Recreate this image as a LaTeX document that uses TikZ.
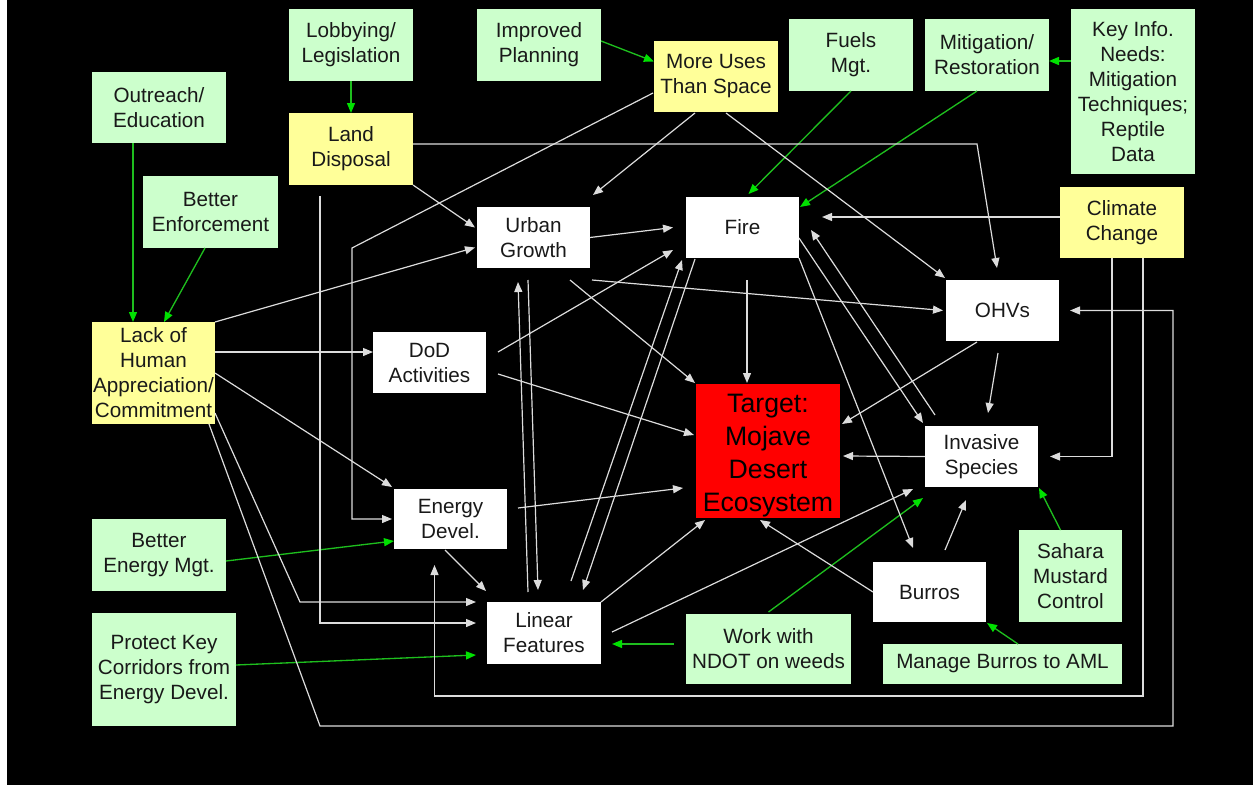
\documentclass[tikz,border=0pt]{standalone}
\usepackage{fontspec}
\setmainfont{Liberation Sans}
\usetikzlibrary{arrows.meta}
\definecolor{gfill}{RGB}{204,255,204}
\definecolor{yfill}{RGB}{255,255,153}
\definecolor{lgray}{RGB}{220,220,220}
\definecolor{lgreen}{RGB}{30,190,30}
\definecolor{ghead}{RGB}{0,225,0}
\definecolor{txt}{RGB}{25,25,25}
\newcommand\mybox[7]{\node[#6, minimum width={(#4-#2)*0.75pt}, minimum height={(#5-#3)*0.75pt}] (#1) at ({(#2+#4)/2},{(#3+#5)/2}) {#7};}
\tikzset{
  box/.style={inner sep=0pt, outer sep=0pt, align=center, text=txt, font=\fontsize{15.5}{18.75}\selectfont},
  gbox/.style={box, fill=gfill},
  ybox/.style={box, fill=yfill},
  wbox/.style={box, fill=white},
  tbox/.style={box, fill=red, text=black, font=\fontsize{20}{24.75}\selectfont},
  warr/.style={draw=lgray, line width=0.9pt, -{Triangle[length=7.5pt,width=6pt]}},
  garr/.style={draw=lgreen, line width=1pt, -{Triangle[length=7.5pt,width=6pt,color=ghead]}}
}
\begin{document}
\begin{tikzpicture}[x=0.75pt,y=-0.75pt]
\useasboundingbox (0,0) rectangle (1253,785);
\fill[white] (0,0) rectangle (1253,785);
\fill[black] (7,0) rectangle (1253,785);
% nodes
\mybox{outreach}{92}{72}{226}{143}{gbox}{Outreach/\\Education}
\mybox{lobby}{289}{9}{413}{81}{gbox}{Lobbying/\\Legislation}
\mybox{land}{289}{113}{413}{185}{ybox}{Land\\Disposal}
\mybox{enforce}{143}{176}{278}{248}{gbox}{Better\\Enforcement}
\mybox{improved}{477}{9}{601}{81}{gbox}{Improved\\Planning}
\mybox{moreuses}{654}{41}{778}{112}{ybox}{More Uses\\Than Space}
\mybox{fuels}{789}{19}{913}{91}{gbox}{Fuels\\Mgt.}
\mybox{mitig}{925}{19}{1049}{91}{gbox}{Mitigation/\\Restoration}
\mybox{keyinfo}{1071}{9}{1195}{174}{gbox}{Key Info.\\Needs:\\Mitigation\\Techniques;\\Reptile\\Data}
\mybox{climate}{1060}{187}{1184}{258}{ybox}{Climate\\Change}
\mybox{urban}{477}{207}{590}{268}{wbox}{Urban\\Growth}
\mybox{fire}{686}{197}{799}{258}{wbox}{Fire}
\mybox{ohvs}{946}{280}{1059}{341}{wbox}{OHVs}
\mybox{lack}{92}{322}{215}{424}{ybox}{Lack of\\Human\\Appreciation/\\Commitment}
\mybox{dod}{373}{332}{486}{393}{wbox}{DoD\\Activities}
\mybox{energy}{394}{489}{507}{549}{wbox}{Energy\\Devel.}
\mybox{target}{696}{384}{840}{518}{tbox}{\rule{0pt}{20pt}Target:\\Mojave\\Desert\\Ecosystem}
\mybox{invasive}{925}{426}{1038}{487}{wbox}{Invasive\\Species}
\mybox{sahara}{1019}{530}{1122}{622}{gbox}{Sahara\\Mustard\\Control}
\mybox{burros}{873}{562}{986}{622}{wbox}{Burros}
\mybox{manage}{883}{644}{1122}{684}{gbox}{Manage Burros to AML}
\mybox{ndot}{686}{614}{851}{684}{gbox}{Work with\\NDOT on weeds}
\mybox{linear}{487}{602}{601}{664}{wbox}{Linear\\Features}
\mybox{benergy}{92}{519}{226}{591}{gbox}{Better\\Energy Mgt.}
\mybox{protect}{92}{613}{236}{726}{gbox}{Protect Key\\Corridors from\\Energy Devel.}
% green connectors
\draw[garr] (lobby.south) -- (land.north);
\draw[garr] ([shift={(0,-4)}]improved.east) -- ([shift={(0,-15)}]moreuses.west);
\draw[garr] (fuels.south) -- ([shift={(6,-3)}]fire.north);
\draw[garr] ([shift={(-10,0)}]mitig.south) -- ([shift={(1,10)}]fire.north east);
\draw[garr] ([shift={(0,-30.5)}]keyinfo.west) -- ([shift={(0,6)}]mitig.east);
\draw[garr] ([shift={(-26,0)}]outreach.south) -- ([shift={(-20.5,0)}]lack.north);
\draw[garr] ([shift={(-5.5,0)}]enforce.south) -- ([shift={(10.5,0)}]lack.north);
\draw[garr] ([shift={(0,6)}]benergy.east) -- ([shift={(0,22)}]energy.west);
\draw[garr] ([shift={(0,-4.5)}]protect.east) -- ([shift={(-11,22)}]linear.west);
\draw[garr] ([shift={(-12,-5)}]ndot.west) -- ([shift={(11,11)}]linear.east);
\draw[garr] ([shift={(0,-2)}]ndot.north) -- ([shift={(-2,11)}]invasive.south west);
\draw[garr] ([shift={(-10,0)}]sahara.north) -- ([shift={(1,1)}]invasive.south east);
\draw[garr] ([shift={(15.5,0)}]manage.north) -- ([shift={(1,1)}]burros.south east);
% white connectors
\draw[warr] ([shift={(0,-5)}]land.east) -- (977,144) -- ([shift={(-5.5,-12)}]ohvs.north);
\draw[warr] (land.south east) -- ([shift={(-2,-10)}]urban.west);
\draw[warr] ([shift={(-31,11)}]land.south) |- ([shift={(-11,-10)}]linear.west);
\draw[warr] ([shift={(-1,16.5)}]moreuses.west) -- (352,248) |- ([shift={(-2,0)}]energy.west);
\draw[warr] ([shift={(-21,1)}]moreuses.south) -- ([shift={(3,-12)}]urban.north east);
\draw[warr] ([shift={(10,1)}]moreuses.south) -- ([shift={(-1,-2)}]ohvs.north west);
\draw[warr] (urban.east) -- ([shift={(-13,0)}]fire.west);
\draw[warr] ([shift={(12,-10.5)}]dod.east) -- ([shift={(-13,-8)}]fire.south west);
\draw[warr] ([shift={(12,11.5)}]dod.east) -- ([shift={(-2,-16)}]target.west);
\draw[warr] ([shift={(36.5,12)}]urban.south) -- ([shift={(-1,-1)}]target.north west);
\draw[warr] ([shift={(2,12)}]urban.south east) -- ([shift={(-3,0)}]ohvs.west);
\draw[warr] ([shift={(4.5,22)}]fire.south) -- ([shift={(-21,-1)}]target.north);
\draw[warr] (lack.north east) -- ([shift={(-2,10)}]urban.west);
\draw[warr] ([shift={(0,-21)}]lack.east) -- ([shift={(0,-10.5)}]dod.west);
\draw[warr] (lack.east) -- ([shift={(-2,-2)}]energy.north west);
\draw[warr] ([shift={(0,40)}]lack.east) -- (300,602) -- ([shift={(-11,-31)}]linear.west);
\draw[warr] ([shift={(-6,0)}]lack.south east) -- (320,726) -- (1173,726) |- ([shift={(11,0)}]ohvs.east);
\draw[warr] ([shift={(0,-5.5)}]climate.west) -- ([shift={(23,-10.5)}]fire.east);
\draw[warr] ([shift={(-10,0)}]climate.south) |- ([shift={(12,0)}]invasive.east);
\draw[warr] ([shift={(21,0)}]climate.south) -- (1143,696) -| ([shift={(-16,16)}]energy.south);
\draw[warr] ([shift={(11,-11)}]energy.east) -- ([shift={(-13,37)}]target.west);
\draw[warr] ([shift={(-5.5,1)}]energy.south) -- ([shift={(-1,-11)}]linear.north west);
\draw[warr] ([shift={(-16,-10)}]linear.north) -- ([shift={(-15.5,14)}]urban.south);
\draw[warr] ([shift={(-5.5,12)}]urban.south) -- ([shift={(-6,-12)}]linear.north);
\draw[warr] ([shift={(27,-21)}]linear.north) -- ([shift={(-4,2)}]fire.south west);
\draw[warr] ([shift={(9,1)}]fire.south west) -- ([shift={(39,-12)}]linear.north);
\draw[warr] (linear.north east) -- ([shift={(9,2)}]target.south west);
\draw[warr] ([shift={(11,-1)}]linear.east) -- ([shift={(-12,2)}]invasive.south west);
\draw[warr] ([shift={(0,10.5)}]fire.east) -- ([shift={(-2,-3)}]invasive.north west);
\draw[warr] ([shift={(10,-11)}]invasive.north west) -- ([shift={(12,2.5)}]fire.east);
\draw[warr] (fire.south east) -- ([shift={(40,-14)}]burros.north west);
\draw[warr] ([shift={(-25.5,1)}]ohvs.south) -- ([shift={(2,-27)}]target.east);
\draw[warr] ([shift={(-4.5,12)}]ohvs.south) -- ([shift={(6.5,-13)}]invasive.north);
\draw[warr] (invasive.west) -- ([shift={(3,5)}]target.east);
\draw[warr] (burros.west) -- ([shift={(-8,2)}]target.south);
\draw[warr] ([shift={(15.5,-12)}]burros.north) -- ([shift={(-15.5,13)}]invasive.south);
\end{tikzpicture}
\end{document}
